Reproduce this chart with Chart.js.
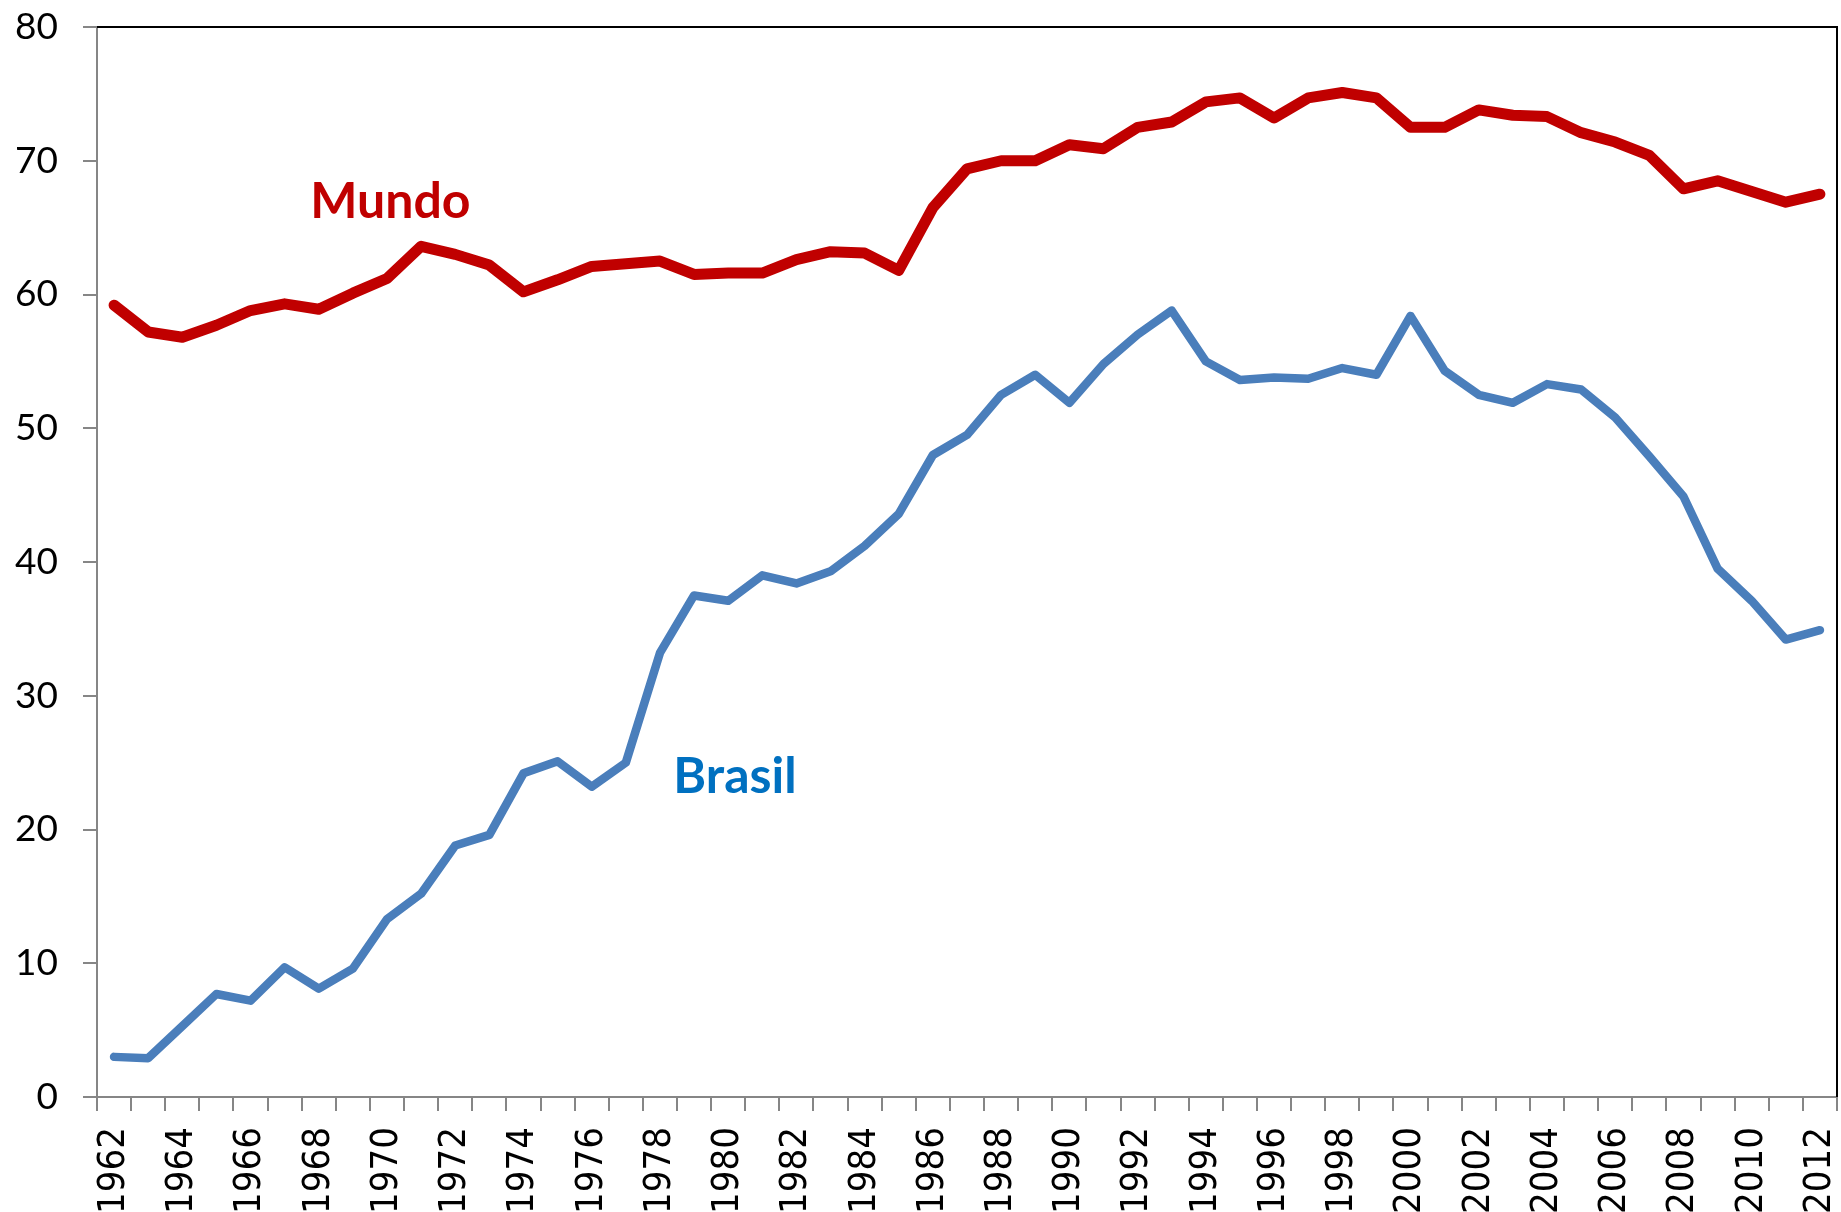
<!DOCTYPE html>
<html>
<head>
<meta charset="utf-8">
<script src="https://cdn.jsdelivr.net/npm/chart.js@4.4.1/dist/chart.umd.min.js"></script>
<style>
  html, body { margin: 0; padding: 0; background: #fff; }
  canvas { display: block; }
</style>
</head>
<body>
<canvas id="chart" width="1841" height="1212"></canvas>
<script>
const years = [
  1962, 1963, 1964, 1965, 1966, 1967, 1968, 1969, 1970, 1971,
  1972, 1973, 1974, 1975, 1976, 1977, 1978, 1979, 1980, 1981,
  1982, 1983, 1984, 1985, 1986, 1987, 1988, 1989, 1990, 1991,
  1992, 1993, 1994, 1995, 1996, 1997, 1998, 1999, 2000, 2001,
  2002, 2003, 2004, 2005, 2006, 2007, 2008, 2009, 2010, 2011, 2012,
];

const mundo = [
  59.2, 57.2, 56.8, 57.7, 58.8, 59.3, 58.9, 60.1, 61.2, 63.6,
  63.0, 62.2, 60.2, 61.1, 62.1, 62.3, 62.5, 61.5, 61.6, 61.6,
  62.6, 63.2, 63.1, 61.8, 66.5, 69.4, 70.0, 70.0, 71.2, 70.9,
  72.5, 72.9, 74.4, 74.7, 73.2, 74.7, 75.1, 74.7, 72.5, 72.5,
  73.8, 73.4, 73.3, 72.1, 71.4, 70.4, 67.9, 68.5, 67.7, 66.9, 67.5,
];

const brasil = [
  3.0, 2.9, 5.3, 7.7, 7.2, 9.7, 8.1, 9.6, 13.3, 15.2,
  18.8, 19.6, 24.2, 25.1, 23.2, 25.0, 33.2, 37.5, 37.1, 39.0,
  38.4, 39.3, 41.2, 43.6, 48.0, 49.5, 52.5, 54.0, 51.9, 54.8,
  57.0, 58.8, 55.0, 53.6, 53.8, 53.7, 54.5, 54.0, 58.4, 54.3,
  52.5, 51.9, 53.3, 52.9, 50.8, 47.9, 44.9, 39.5, 37.1, 34.2, 34.9,
];

const yTicks = [0, 10, 20, 30, 40, 50, 60, 70, 80];

// in-plot series names, anchored in data terms (year, value of baseline)
const seriesNames = [
  { text: "Mundo", year: 1970.1, value: 65.7, color: "#C00000" },
  { text: "Brasil", year: 1980.2, value: 22.7, color: "#0070C0" },
];

const axisGrey = "#868686";

const namesPlugin = {
  id: "seriesNames",
  afterDatasetsDraw(chart) {
    const { ctx, scales } = chart;
    ctx.save();
    ctx.font = "bold 50px Lato, 'Open Sans', sans-serif";
    ctx.textAlign = "center";
    ctx.textBaseline = "alphabetic";
    seriesNames.forEach((n) => {
      ctx.fillStyle = n.color;
      ctx.fillText(
        n.text,
        scales.x.getPixelForValue(n.year - years[0]),
        scales.y.getPixelForValue(n.value)
      );
    });
    ctx.restore();
  },
};

const framePlugin = {
  id: "frame",
  afterDraw(chart) {
    const { ctx, chartArea } = chart;
    ctx.save();
    ctx.strokeStyle = "#000";
    ctx.lineWidth = 2;
    ctx.beginPath();
    ctx.moveTo(chartArea.left, chartArea.top);
    ctx.lineTo(chartArea.right, chartArea.top);
    ctx.lineTo(chartArea.right, chartArea.bottom);
    ctx.stroke();
    ctx.restore();
  },
};

const data = {
  labels: years.map(String),
  datasets: [
    {
      label: "Mundo",
      data: mundo,
      borderColor: "#C00000",
      borderWidth: 11,
      borderCapStyle: "round",
      borderJoinStyle: "round",
      pointRadius: 0,
      tension: 0,
    },
    {
      label: "Brasil",
      data: brasil,
      borderColor: "#4A7EBB",
      borderWidth: 8.5,
      borderCapStyle: "round",
      borderJoinStyle: "round",
      pointRadius: 0,
      tension: 0,
    },
  ],
};

const config = {
  type: "line",
  data: data,
  options: {
    responsive: false,
    animation: false,
    events: [],
    layout: { padding: { top: 27, right: 4, left: 0, bottom: 0 } },
    plugins: {
      legend: { display: false },
      tooltip: { enabled: false },
    },
    scales: {
      x: {
        type: "category",
        offset: true,
        afterFit: (scale) => {
          scale.height = 115;
          scale.paddingLeft = 0;
          scale.paddingRight = 0;
        },
        grid: {
          offset: true,
          drawOnChartArea: false,
          drawTicks: true,
          tickLength: 14,
          color: axisGrey,
          lineWidth: 2,
        },
        border: { color: axisGrey, width: 2 },
        ticks: {
          autoSkip: false,
          minRotation: 90,
          maxRotation: 90,
          padding: 16,
          color: "#000",
          font: { family: "'Liberation Sans Narrow', 'DejaVu Sans Condensed', 'DejaVu Sans', sans-serif", size: 38 },
          callback: (val, i) => (i % 2 === 0 ? years[i] : ""),
        },
      },
      y: {
        min: 0,
        max: 80,
        afterFit: (scale) => {
          scale.width = 97;
          scale.paddingTop = 0;
          scale.paddingBottom = 0;
        },
        afterBuildTicks: (scale) => {
          scale.ticks = yTicks.map((v) => ({ value: v }));
        },
        grid: {
          drawOnChartArea: false,
          drawTicks: true,
          tickLength: 14,
          color: axisGrey,
          lineWidth: 2,
        },
        border: { color: axisGrey, width: 2 },
        ticks: {
          padding: 25,
          color: "#000",
          font: { family: "Lato, 'Open Sans', sans-serif", size: 37 },
        },
      },
    },
  },
  plugins: [namesPlugin, framePlugin],
};

const chart = new Chart(document.getElementById("chart"), config);
</script>
</body>
</html>
